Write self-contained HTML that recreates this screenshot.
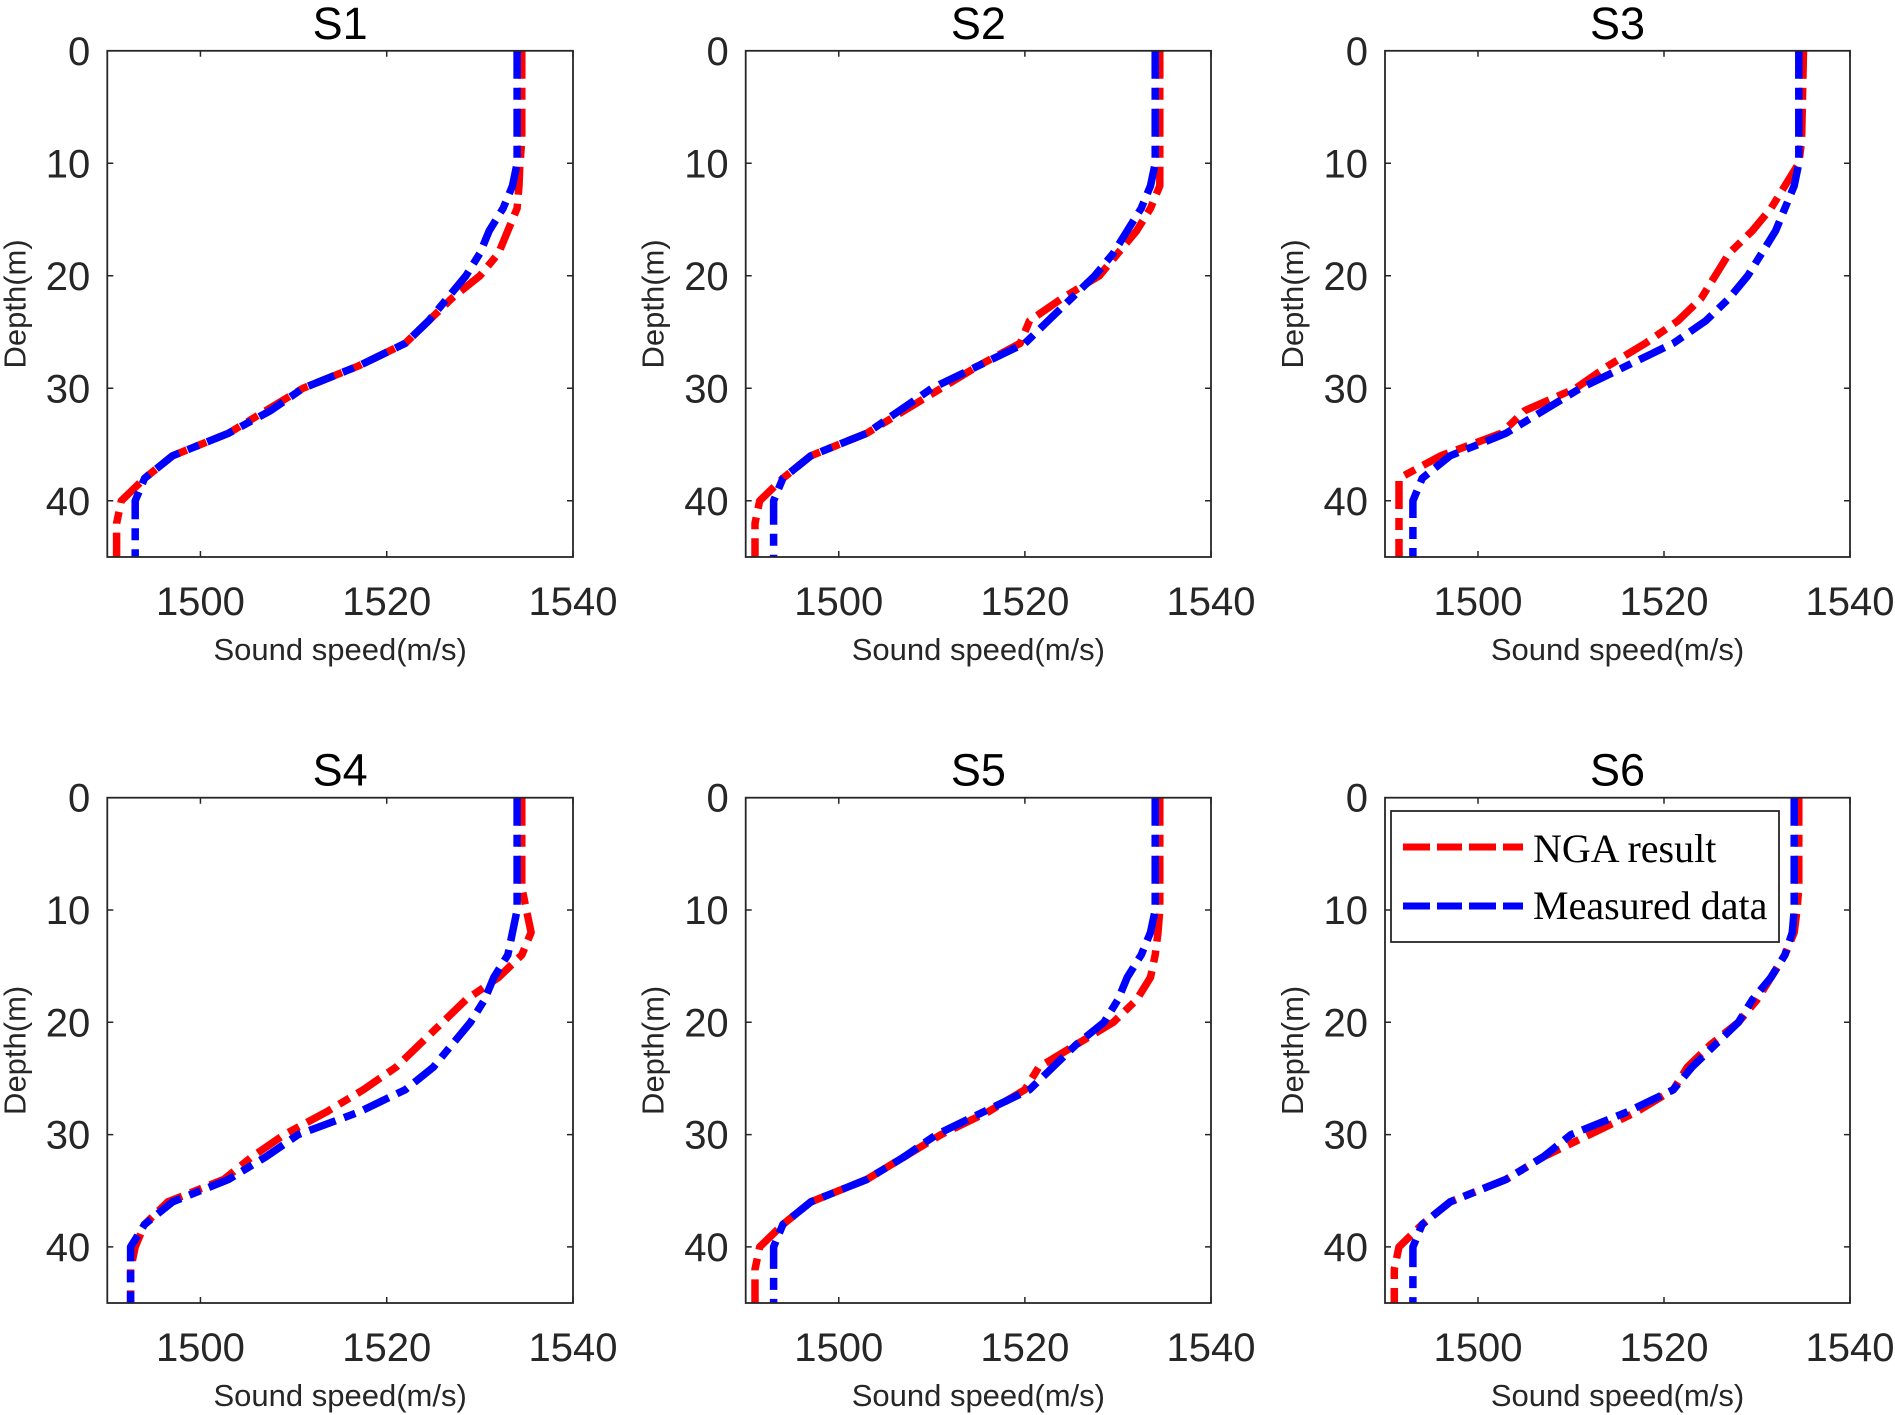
<!DOCTYPE html>
<html><head><meta charset="utf-8">
<style>
html,body{margin:0;padding:0;background:#fff;}
svg{display:block;font-family:"Liberation Sans",sans-serif;}
</style></head>
<body>
<svg id="chart" width="1895" height="1415" viewBox="0 0 1895 1415"></svg>
<script>
const depths = [0,8,10,12,14,16,18,20,22,24,26,28,30,32,34,36,38,40,42,45];
const panelTitles = ["S1","S2","S3","S4","S5","S6"];
const xTicks = [1500,1520,1540];
const yTicks = [0,10,20,30,40];
const ngaS1 = [1534.5,1534.5,1534.3,1534.2,1534,1533,1532,1530,1527,1524.5,1522,1517,1511,1507,1503,1497,1494,1491.5,1491,1491];
const measS1 = [1534,1534,1534,1533.5,1532.5,1531,1530,1528.5,1526.5,1524.5,1522,1517,1511,1507.5,1503,1497,1494,1493,1493,1493];
const ngaS2 = [1534.5,1534.5,1534.5,1534.5,1533.5,1532,1530,1528,1524,1520.5,1519.5,1515,1511,1507,1503,1497,1494,1491.5,1491,1491];
const measS2 = [1534,1534,1534,1533.5,1532.5,1531,1529.5,1527.5,1525,1522.5,1520,1515,1510,1506.5,1503,1497,1494,1493,1493,1493];
const ngaS3 = [1535,1534.8,1534.5,1533,1531.5,1529.5,1527,1525.5,1524,1521.5,1518,1514,1510.5,1505,1502.5,1496,1491.5,1491.5,1491.5,1491.5];
const measS3 = [1534.5,1534.5,1534.5,1534,1533,1532,1530.5,1529,1527,1524.5,1521,1516,1511,1507,1503,1497,1494,1493,1493,1493];
const ngaS4 = [1534.5,1534.5,1535,1535.5,1534.5,1532,1528.5,1526,1523.5,1521,1517.5,1513.5,1509,1505.5,1502.5,1496.5,1494,1493,1492.5,1492.5];
const measS4 = [1534,1534,1534,1533.5,1533,1531.5,1530.5,1529,1527,1525,1522,1517,1510.5,1507,1503,1497,1494,1492.5,1492.5,1492.5];
const ngaS5 = [1534.5,1534.5,1534.5,1534.3,1534,1533.5,1532,1529.5,1525.5,1521.5,1520,1516,1511,1507,1503,1497,1494,1491.5,1491,1491];
const measS5 = [1534,1534,1534,1533.5,1532.5,1531,1530,1528.5,1525.5,1523,1520.5,1515.5,1510.5,1507,1503,1497,1494,1493,1493,1493];
const ngaS6 = [1534.5,1534.5,1534.3,1534,1533,1531.5,1530,1528,1525,1522.5,1521,1517,1512,1507,1503,1497,1494,1491.5,1491,1491];
const measS6 = [1534,1534,1534,1533.8,1533,1531.5,1529.5,1528,1525.5,1523,1521,1516,1510,1507,1503,1497,1494,1493,1493,1493];
const ngaSeries = [ngaS1,ngaS2,ngaS3,ngaS4,ngaS5,ngaS6];
const measSeries = [measS1,measS2,measS3,measS4,measS5,measS6];

const NS="http://www.w3.org/2000/svg";
const svg=document.getElementById('chart');
function mk(tag,attrs,parent){const e=document.createElementNS(NS,tag);for(const k in attrs)e.setAttribute(k,attrs[k]);(parent||svg).appendChild(e);return e;}

const colsX=[[107.3,573],[745.7,1211],[1385,1850]];
const rowsY=[[50.8,557],[797.7,1303]];
const xMin=1490,xMax=1540,yMin=0,yMax=45;
const DASH="28 9 12 9";

panelTitles.forEach((t,i)=>{
  const c=colsX[i%3], r=rowsY[Math.floor(i/3)];
  const L=c[0],R=c[1],T=r[0],B=r[1];
  const xs=v=>L+(v-xMin)/(xMax-xMin)*(R-L);
  const ys=v=>T+(v-yMin)/(yMax-yMin)*(B-T);
  const g=mk('g',{});
  
  
  const bg=mk('rect',{x:L,y:T,width:R-L,height:B-T,fill:'#fff',stroke:'none'},g);
  
  
  const clipId='clip'+i;
  const cp=mk('clipPath',{id:clipId},g);
  mk('rect',{x:L,y:T,width:R-L,height:B-T},cp);
  xTicks.forEach(v=>{
    const x=xs(v);
    const tk=mk('path',{d:`M${x},${B}v-6M${x},${T}v6`,stroke:'#262626','stroke-width':1.5},g);
    
    
    const tl=mk('text',{x:x,y:B+58,'text-anchor':'middle','font-size':40,fill:'#262626'},g);
    tl.textContent=v;
    
    
  });
  yTicks.forEach(v=>{
    const y=ys(v);
    const tk=mk('path',{d:`M${L},${y}h6M${R},${y}h-6`,stroke:'#262626','stroke-width':1.5},g);
    
    
    const tl=mk('text',{x:L-17,y:y+14,'text-anchor':'end','font-size':40,fill:'#262626'},g);
    tl.textContent=v;
    
    
  });
  const lines=[[ngaSeries[i],'#ff0000','nga-result-line'],[measSeries[i],'#0000ff','measured-data-line']];
  lines.forEach(([vals,col,name])=>{
    const d=vals.map((v,k)=>(k?'L':'M')+xs(v).toFixed(1)+','+ys(depths[k]).toFixed(1)).join('');
    const p=mk('path',{d:d,fill:'none',stroke:col,'stroke-width':7.5,'stroke-dasharray':DASH,'stroke-linejoin':'round','clip-path':`url(#${clipId})`},g);
    
    
  });
  const fr=mk('rect',{x:L,y:T,width:R-L,height:B-T,fill:'none',stroke:'#262626','stroke-width':1.8},g);
  
  
  const ti=mk('text',{x:(L+R)/2,y:T-12,'text-anchor':'middle','font-size':45,fill:'#000'},g);
  ti.textContent=t;
  
  
  const xl=mk('text',{x:(L+R)/2,y:B+103,'text-anchor':'middle','font-size':31,fill:'#262626'},g);
  xl.textContent='Sound speed(m/s)';
  
  
  const cy=(T+B)/2;
  const yl=mk('text',{x:0,y:0,'text-anchor':'middle','font-size':31,fill:'#262626',transform:`translate(${L-82},${cy}) rotate(-90)`},g);
  yl.textContent='Depth(m)';
  
  
});

const lg=mk('g',{});


mk('rect',{x:1391,y:811,width:388,height:131,fill:'#fff',stroke:'#262626','stroke-width':1.8},lg);
const legItems=[['NGA result','#ff0000',847,862],['Measured data','#0000ff',906,919]];
legItems.forEach(([lab,col,ly,ty])=>{
  const e=mk('g',{},lg);
  
  
  mk('line',{x1:1403,y1:ly,x2:1523,y2:ly,stroke:col,'stroke-width':7,'stroke-dasharray':'27 7 25 7'},e);
  const tx=mk('text',{x:1533,y:ty,'font-size':40,fill:'#000','font-family':'"Liberation Serif",serif'},e);
  tx.textContent=lab;
});
</script>
</body></html>
